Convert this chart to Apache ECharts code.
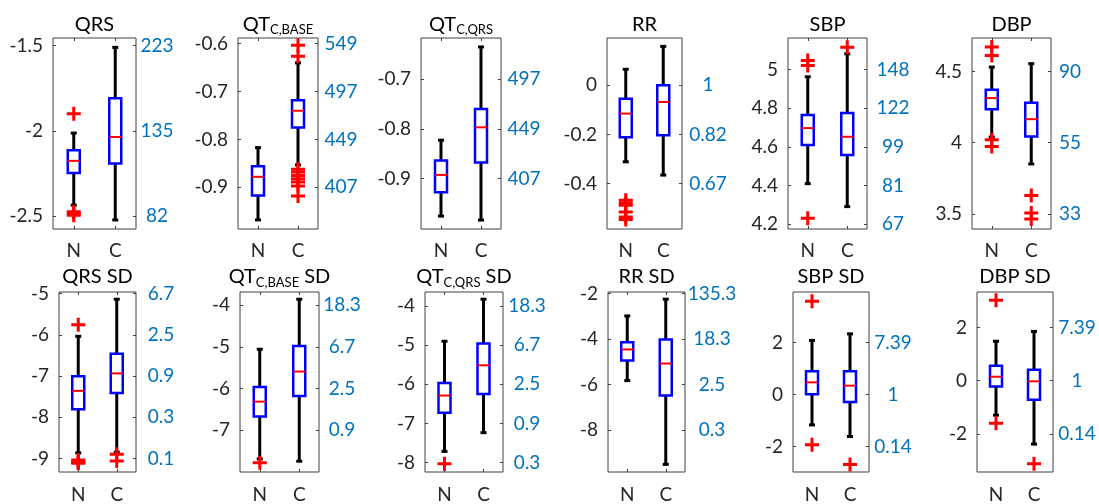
<!DOCTYPE html>
<html>
<head>
<meta charset="utf-8">
<script src="https://cdn.jsdelivr.net/npm/echarts@6/dist/echarts.min.js"></script>
<style>html,body{margin:0;padding:0;background:#fff;}#c{width:1099px;height:504px;}</style>
</head>
<body>
<div id="c"></div>
<script>
// ---------- data ----------
const CATS = ['N', 'C'];
const TITLES = ['QRS', 'QT{s|C,BASE}', 'QT{s|C,QRS}', 'RR', 'SBP', 'DBP',
  'QRS SD', 'QT{s|C,BASE} SD', 'QT{s|C,QRS} SD', 'RR SD', 'SBP SD', 'DBP SD'];
const Y_MIN = [-2.576, -0.987, -1.002, -0.584, 4.174, 3.395, -9.33, -8.006, -8.24, -9.85, -2.98, -3.43];
const Y_MAX = [-1.455, -0.588, -0.617, 0.192, 5.164, 4.734, -4.96, -3.686, -3.64, -1.93, 3.94, 3.33];
const LEFT_TICKS = [
  [-2.5, -2, -1.5], [-0.9, -0.8, -0.7, -0.6], [-0.9, -0.8, -0.7], [-0.4, -0.2, 0],
  [4.2, 4.4, 4.6, 4.8, 5], [3.5, 4, 4.5],
  [-9, -8, -7, -6, -5], [-7, -6, -5, -4], [-8, -7, -6, -5, -4], [-8, -6, -4, -2],
  [-2, 0, 2], [-2, 0, 2]
];
const RIGHT_LABELS = [
  ['82', '135', '223'], ['407', '449', '497', '549'], ['407', '449', '497'], ['0.67', '0.82', '1'],
  ['67', '81', '99', '122', '148'], ['33', '55', '90'],
  ['0.1', '0.3', '0.9', '2.5', '6.7'], ['0.9', '2.5', '6.7', '18.3'], ['0.3', '0.9', '2.5', '6.7', '18.3'],
  ['0.3', '2.5', '18.3', '135.3'], ['0.14', '1', '7.39'], ['0.14', '1', '7.39']
];
// [lower whisker, Q1, median, Q3, upper whisker]
const N_BOX = [
  [-2.436, -2.247, -2.176, -2.114, -2.013],
  [-0.968, -0.917, -0.878, -0.856, -0.817],
  [-0.976, -0.928, -0.893, -0.864, -0.823],
  [-0.311, -0.211, -0.115, -0.055, 0.065],
  [4.409, 4.610, 4.697, 4.765, 4.963],
  [4.039, 4.235, 4.313, 4.371, 4.530],
  [-8.865, -7.805, -7.36, -7.008, -6.036],
  [-7.692, -6.671, -6.317, -5.964, -5.06],
  [-7.714, -6.723, -6.286, -5.966, -4.899],
  [-5.829, -4.948, -4.457, -4.139, -2.983],
  [-1.17, 0.013, 0.467, 0.896, 2.08],
  [-1.296, -0.222, 0.148, 0.556, 1.48]
];
const C_BOX = [
  [-2.523, -2.192, -2.036, -1.808, -1.51],
  [-0.853, -0.775, -0.740, -0.718, -0.640],
  [-0.984, -0.868, -0.797, -0.760, -0.635],
  [-0.365, -0.203, -0.068, 0.0, 0.158],
  [4.290, 4.557, 4.652, 4.775, 5.082],
  [3.851, 4.043, 4.165, 4.280, 4.554],
  [-8.85, -7.414, -6.936, -6.458, -5.135],
  [-7.747, -6.184, -5.595, -4.982, -3.859],
  [-7.235, -6.244, -5.513, -4.958, -3.824],
  [-9.514, -6.48, -5.078, -4.023, -2.246],
  [-1.615, -0.29, 0.34, 0.896, 2.33],
  [-2.383, -0.716, -0.025, 0.407, 1.85]
];
const N_OUT = [
  [-1.90, -2.475, -2.485, -2.495],
  [],
  [],
  [-0.467, -0.478, -0.487, -0.515, -0.535, -0.545],
  [5.022, 5.048, 4.23],
  [4.671, 4.612, 4.020, 3.973],
  [-5.757, -9.04, -9.07, -9.10, -9.12],
  [-7.786],
  [-8.03],
  [],
  [3.58, -1.93],
  [3.02, -1.60]
];
const C_OUT = [
  [],
  [-0.603, -0.626, -0.862, -0.868, -0.875, -0.882, -0.889, -0.897, -0.918],
  [],
  [],
  [5.116],
  [3.629, 3.507, 3.465],
  [-8.90, -9.06],
  [],
  [],
  [],
  [-2.69],
  [-3.12]
];

// ---------- layout (pixels) ----------
const FRAMES = [ // left, top, width, height
  [53, 38, 83, 191], [238, 38, 80, 191], [421, 38, 80, 191], [607, 38, 75, 191], [788, 38, 79, 191], [972, 38, 79, 191],
  [59, 292, 77, 182], [240, 292, 79, 182], [425, 292, 78, 182], [608, 292, 77, 182], [793, 292, 76, 182], [977, 292, 76, 182]
];
const RIGHT_MARGIN = [21, 23, 23, 26, 26, 19, 25, 23, 24, 27, 24, 24];

const FONT = 'Lato, "Open Sans", sans-serif';
const DARK = '#262626';
const FRAME_C = '#404040';
const BLUE_TXT = '#0072BD';
const PLUS = 'path://M5.5,0H8.5V5.5H14V8.5H8.5V14H5.5V8.5H0V5.5H5.5Z';

function renderBox(params, api) {
  const x = api.value(0);
  const pLo = api.coord([x, api.value(1)]);
  const pQ1 = api.coord([x, api.value(2)]);
  const pMd = api.coord([x, api.value(3)]);
  const pQ3 = api.coord([x, api.value(4)]);
  const pHi = api.coord([x, api.value(5)]);
  const cx = pMd[0];
  const hw = 6, cap = 3;
  const blk = { stroke: '#000', lineWidth: 3 };
  return {
    type: 'group',
    children: [
      { type: 'line', shape: { x1: cx, y1: pQ3[1], x2: cx, y2: pHi[1] }, style: blk },
      { type: 'line', shape: { x1: cx, y1: pQ1[1], x2: cx, y2: pLo[1] }, style: blk },
      { type: 'line', shape: { x1: cx - cap, y1: pHi[1], x2: cx + cap, y2: pHi[1] }, style: blk },
      { type: 'line', shape: { x1: cx - cap, y1: pLo[1], x2: cx + cap, y2: pLo[1] }, style: blk },
      { type: 'rect', shape: { x: cx - hw, y: pQ3[1], width: 2 * hw, height: pQ1[1] - pQ3[1] },
        style: { fill: '#fff', stroke: '#0000ff', lineWidth: 2.5 } },
      { type: 'line', shape: { x1: cx - hw, y1: pMd[1], x2: cx + hw, y2: pMd[1] },
        style: { stroke: '#ff0000', lineWidth: 2 } }
    ]
  };
}

const grid = [], xAxis = [], xTop = [], yAxis = [], series = [], graphic = [];
for (let i = 0; i < 12; i++) {
  const f = FRAMES[i];
  const row2 = i >= 6;
  grid.push({ left: f[0], top: f[1], width: f[2], height: f[3], show: true,
    borderColor: FRAME_C, borderWidth: 1, backgroundColor: 'transparent', containLabel: false });
  xAxis.push({ gridIndex: i, type: 'category', data: CATS, boundaryGap: true, position: 'bottom',
    axisLine: { show: false },
    axisTick: { show: true, inside: true, alignWithLabel: true, length: 3, lineStyle: { color: FRAME_C } },
    axisLabel: { fontFamily: FONT, fontSize: 19, color: DARK, margin: row2 ? 13 : 12 },
    splitLine: { show: false } });
  xTop.push({ gridIndex: i, type: 'category', data: CATS, boundaryGap: true, position: 'top',
    axisLine: { show: false },
    axisTick: { show: true, inside: true, alignWithLabel: true, length: 3, lineStyle: { color: FRAME_C } },
    axisLabel: { show: false }, splitLine: { show: false } });
  const ticks = LEFT_TICKS[i];
  const labels = RIGHT_LABELS[i];
  yAxis.push({ gridIndex: i, type: 'value', position: 'left', min: Y_MIN[i], max: Y_MAX[i],
    axisLine: { show: false }, splitLine: { show: false },
    axisTick: { show: true, inside: true, length: 3, customValues: ticks, lineStyle: { color: FRAME_C } },
    axisLabel: { customValues: ticks, fontFamily: FONT, fontSize: 19, color: DARK, margin: 10,
      formatter: v => String(v) } });
  yAxis.push({ gridIndex: i, type: 'value', position: 'right', min: Y_MIN[i], max: Y_MAX[i],
    axisLine: { show: false }, splitLine: { show: false },
    axisTick: { show: true, inside: true, length: 3, customValues: ticks, lineStyle: { color: FRAME_C } },
    axisLabel: { customValues: ticks, fontFamily: FONT, fontSize: 19, color: BLUE_TXT,
      margin: RIGHT_MARGIN[i], align: 'center',
      formatter: v => {
        let k = 0, best = Infinity;
        ticks.forEach((t, j) => { const d = Math.abs(t - v); if (d < best) { best = d; k = j; } });
        return labels[k];
      } } });
  series.push({ type: 'custom', xAxisIndex: i, yAxisIndex: 2 * i, renderItem: renderBox,
    encode: { x: 0, y: [1, 2, 3, 4, 5] }, silent: true, animation: false,
    data: [[0].concat(N_BOX[i]), [1].concat(C_BOX[i])] });
  const outs = N_OUT[i].map(v => [0, v]).concat(C_OUT[i].map(v => [1, v]));
  series.push({ type: 'scatter', xAxisIndex: i, yAxisIndex: 2 * i, symbol: PLUS, symbolSize: 14,
    itemStyle: { color: '#ff0000', opacity: 1 }, silent: true, animation: false, z: 3, data: outs });
  graphic.push({ type: 'text', x: f[0] + f[2] / 2, y: row2 ? 277 : 24.5, silent: true,
    style: { text: TITLES[i], fontFamily: FONT, fontSize: 20, fill: '#000', align: 'center', verticalAlign: 'middle',
      lineHeight: 24,
      rich: { s: { fontFamily: FONT, fontSize: 13, lineHeight: 20, verticalAlign: 'bottom', fill: '#000' } } } });
}

const chart = echarts.init(document.getElementById('c'), null, { renderer: 'canvas' });
chart.setOption({ animation: false, backgroundColor: '#fff', grid, xAxis: xAxis.concat(xTop), yAxis, series, graphic });
</script>
</body>
</html>
